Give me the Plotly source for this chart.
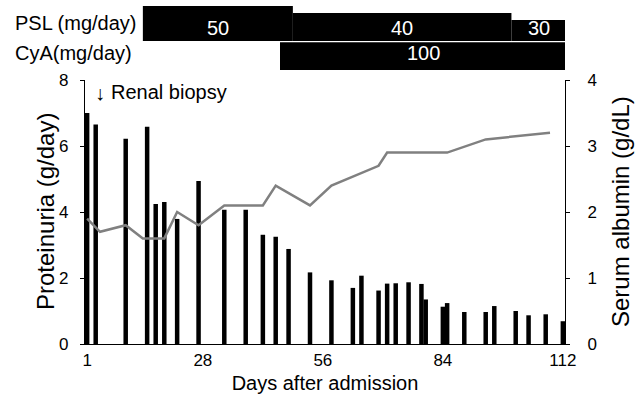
import plotly.graph_objects as go

# ---- data ----
protein_days = [1, 3, 10, 15, 17, 19, 22, 27, 33, 38, 42, 45, 48, 53, 58, 63, 65, 69, 71, 73,
                76, 79, 80, 84, 85, 89, 94, 96, 101, 104, 108, 112]
proteinuria = [7.0, 6.65, 6.22, 6.58, 4.24, 4.30, 3.79, 4.94, 4.07, 4.07, 3.31, 3.25, 2.88, 2.17,
               1.93, 1.70, 2.07, 1.62, 1.83, 1.84, 1.87, 1.82, 1.35, 1.13, 1.24, 0.97, 0.97, 1.15,
               1.00, 0.87, 0.90, 0.69]
albumin_days = [1, 4, 10, 14, 19, 22, 27, 33, 42, 45, 53, 58, 69, 71, 85, 94, 109]
albumin = [1.9, 1.7, 1.8, 1.6, 1.6, 2.0, 1.8, 2.1, 2.1, 2.4, 2.1, 2.4, 2.7, 2.9, 2.9, 3.1, 3.2]

psl_start = [14, 49, 100]
psl_end = [49, 100, 113]
psl_dose = [50, 40, 30]
cya_start = [46]
cya_end = [113]
cya_dose = [100]

x_ticks = [1, 28, 56, 84, 112]
biopsy_day = 4

FONT = "Arial, Liberation Sans, sans-serif"

fig = go.Figure()

fig.add_trace(go.Bar(x=protein_days, y=proteinuria, width=1.05,
                     marker=dict(color="black", line=dict(width=0)),
                     xaxis="x", yaxis="y"))
fig.add_trace(go.Scatter(x=albumin_days, y=albumin, mode="lines",
                         line=dict(color="#808080", width=2.5),
                         xaxis="x", yaxis="y2"))

# dose schedule bars (top panel)
psl_scale = 0.7
psl_base = 30
fig.add_trace(go.Bar(x=[(s + e) / 2 for s, e in zip(psl_start, psl_end)],
                     width=[e - s for s, e in zip(psl_start, psl_end)],
                     y=[d * psl_scale for d in psl_dose], base=[psl_base] * len(psl_dose),
                     marker=dict(color="black", line=dict(width=0)),
                     cliponaxis=False, xaxis="x", yaxis="y3"))
fig.add_trace(go.Bar(x=[(s + e) / 2 for s, e in zip(cya_start, cya_end)],
                     width=[e - s for s, e in zip(cya_start, cya_end)],
                     y=[27.7] * len(cya_dose), base=[1] * len(cya_dose),
                     marker=dict(color="black", line=dict(width=0)),
                     cliponaxis=False, xaxis="x", yaxis="y3"))

annotations = []
for s, e, d in zip(psl_start, psl_end, psl_dose):
    annotations.append(dict(x=(s + e) / 2, y=42.7, xref="x", yref="y3", text=str(d),
                            showarrow=False, font=dict(color="white", size=20, family=FONT)))
for s, e, d in zip(cya_start, cya_end, cya_dose):
    annotations.append(dict(x=(s + e) / 2, y=17.7, xref="x", yref="y3", text=str(d),
                            showarrow=False, font=dict(color="white", size=20, family=FONT)))
annotations.append(dict(x=0.113, y=47.7, xref="paper", yref="y3", text="PSL (mg/day)",
                        xanchor="right", showarrow=False, font=dict(color="black", size=20, family=FONT)))
annotations.append(dict(x=0.103, y=17.7, xref="paper", yref="y3", text="CyA(mg/day)",
                        xanchor="right", showarrow=False, font=dict(color="black", size=20, family=FONT)))
annotations.append(dict(x=biopsy_day, y=7.6, xref="x", yref="y", text="↓",
                        showarrow=False, font=dict(color="black", size=20, family=FONT)))
annotations.append(dict(x=biopsy_day, y=7.64, xref="x", yref="y", text="Renal biopsy",
                        xanchor="left", xshift=9, showarrow=False,
                        font=dict(color="black", size=20, family=FONT)))
# axis titles
annotations.append(dict(x=-40 / 480, y=0.5 * 264 / 339, xref="paper", yref="paper",
                        xanchor="center", yanchor="middle",
                        text="Proteinuria (g/day)", textangle=-90, showarrow=False,
                        font=dict(color="black", size=24, family=FONT)))
annotations.append(dict(x=1 + 55 / 480, y=0.5 * 264 / 339, xref="paper", yref="paper",
                        xanchor="center", yanchor="middle",
                        text="Serum albumin (g/dL)", textangle=-90, showarrow=False,
                        font=dict(color="black", size=24, family=FONT)))

main_top = 264 / 339
fig.update_layout(
    width=644, height=395,
    margin=dict(l=85, r=79, t=5, b=51, autoexpand=False),
    plot_bgcolor="white", paper_bgcolor="white",
    showlegend=False, barmode="overlay",
    font=dict(family=FONT, color="black", size=17),
    xaxis=dict(range=[0.5, 112.5], tickvals=x_ticks, ticktext=[str(t) for t in x_ticks],
               showline=True, linecolor="black", linewidth=1.3, ticks="", showgrid=False,
               zeroline=False, tickfont=dict(size=17), automargin=False,
               title=dict(text="Days after admission", font=dict(size=20), standoff=7),
               anchor="y"),
    yaxis=dict(domain=[0, main_top], range=[0, 8], dtick=2, showline=True, linecolor="black",
               linewidth=1.3, ticks="outside", ticklen=4, tickcolor="black", showgrid=False,
               zeroline=False, tickfont=dict(size=17), ticklabelstandoff=8, automargin=False),
    yaxis2=dict(domain=[0, main_top], range=[0, 4], dtick=1, overlaying="y", side="right",
                showline=True, linecolor="black", linewidth=1.3, ticks="outside", ticklen=4,
                tickcolor="black", showgrid=False, zeroline=False, tickfont=dict(size=17),
                ticklabelstandoff=14, automargin=False),
    yaxis3=dict(domain=[(344 - 71) / 339, 1], range=[0, 66], anchor="x", visible=False,
                fixedrange=True, automargin=False),
    annotations=annotations,
)

fig.write_html("out.html", config={"displayModeBar": False},
               post_script="document.body.style.margin='0';")
